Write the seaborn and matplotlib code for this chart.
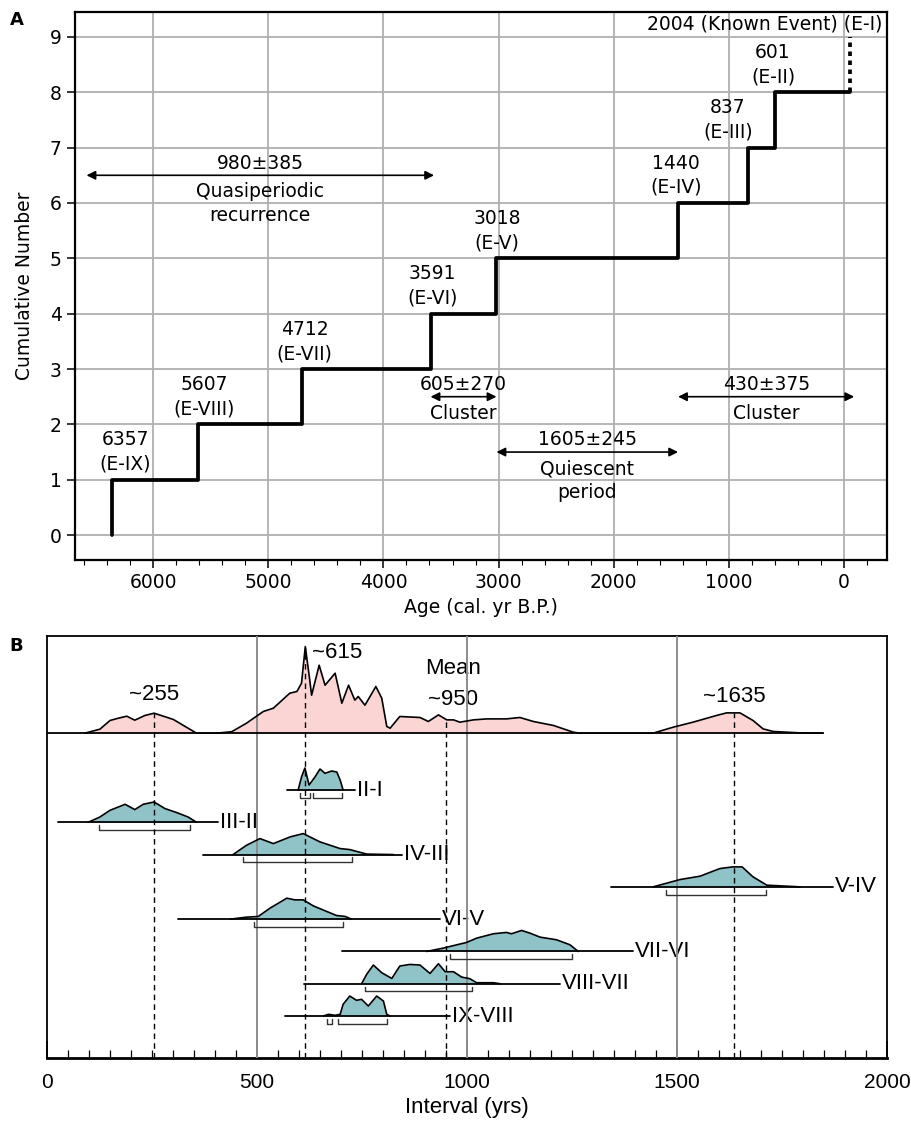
import numpy as np
import seaborn as sns
import matplotlib.pyplot as plt

sns.set_style("ticks")
plt.rcParams['font.family'] = ['DejaVu Sans']
plt.rcParams['text.color'] = 'black'
plt.rcParams['axes.labelcolor'] = 'black'
plt.rcParams['xtick.color'] = 'black'
plt.rcParams['ytick.color'] = 'black'

# ---------------- panel A data ----------------
event_ages = [6357, 5607, 4712, 3591, 3018, 1440, 837, 601]
event_names = ['E-IX', 'E-VIII', 'E-VII', 'E-VI', 'E-V', 'E-IV', 'E-III', 'E-II']
known_age = -54          # 2004 AD
known_label = '2004 (Known Event) (E-I)'
# label x positions (layout only)
event_label_x = [6245, 5556, 4687, 3576, 3012, 1458, 1007, 616]

span_start = [6580, 3591, 3018, 1440]
span_end = [3560, 3018, 1440, -90]
span_y = [6.5, 2.5, 1.5, 2.5]
span_text = [['980±385', 'Quasiperiodic', 'recurrence'],
             ['605±270', 'Cluster'],
             ['1605±245', 'Quiescent', 'period'],
             ['430±375', 'Cluster']]

# ---------------- panel B data ----------------
pink_x = [90, 126, 150, 170, 190, 209, 233, 255, 277, 301, 329, 356, 404, 440, 475, 515,
          539, 578, 595, 606, 615, 625, 630, 648, 662, 686, 702, 718, 733, 741, 757, 783,
          797, 809, 817, 840, 888, 908, 932, 952, 968, 983, 1015, 1047, 1094, 1126, 1158,
          1206, 1253, 1269, 1443, 1491, 1538, 1594, 1618, 1650, 1681, 1705, 1729, 1793, 1848]
pink_h = [0, 4, 12.7, 15, 17, 13, 17.7, 20, 17, 13.7, 6.7, 0, 0, 1.5, 10, 21.7,
          25, 40, 41.7, 50, 86.7, 55, 38, 68, 48, 60, 30, 48, 33, 36.7, 28, 46.7,
          35, 6.7, 5, 16.7, 15.7, 11.7, 18.3, 13.3, 13.3, 11, 13.3, 14.3, 14.3, 15.7, 11.7,
          7.7, 1, 0, 0, 6, 11, 17.7, 20.3, 20.3, 12.7, 4.3, 1.7, 0.3, 0]
modes = [255, 615, 950, 1635]

row_names = ['IX-VIII', 'VIII-VII', 'VII-VI', 'VI-V', 'V-IV', 'IV-III', 'III-II', 'II-I']
ix_viii_x = [658, 670, 686, 698, 705, 721, 737, 749, 765, 785, 801, 809, 817]
ix_viii_h = [0, 1.7, 0.7, 1.7, 11.7, 20, 15.7, 16.7, 10, 20, 15, 1.7, 0]
viii_vii_x = [749, 761, 777, 797, 821, 840, 864, 888, 912, 932, 948, 968, 987, 1007, 1023, 1063, 1079]
viii_vii_h = [0, 9.3, 18.7, 11, 5.3, 17.7, 19.3, 18.7, 10.3, 20, 12, 12, 6.7, 5, 1, 1, 0]
vii_vi_x = [904, 943, 999, 1023, 1063, 1094, 1106, 1130, 1150, 1174, 1213, 1245, 1265]
vii_vi_h = [0, 3.3, 9, 13.3, 17.7, 19, 17.7, 21, 18.3, 14.3, 11.7, 6.7, 0]
vi_v_x = [436, 475, 503, 531, 571, 590, 610, 634, 666, 689, 710, 725]
vi_v_h = [0, 2, 2.7, 11, 21, 19.3, 19.3, 13.3, 7.7, 3.7, 2.7, 0]
v_iv_x = [1443, 1507, 1555, 1602, 1633, 1655, 1681, 1714, 1793]
v_iv_h = [0, 7.3, 10.7, 18.3, 20, 20, 10, 1.7, 0]
iv_iii_x = [443, 475, 507, 539, 579, 610, 650, 698, 721, 761, 825]
iv_iii_h = [0, 9.3, 16, 11, 17.7, 21, 12.7, 6, 5, 0.5, 0]
iii_ii_x = [98, 126, 150, 186, 209, 229, 255, 281, 309, 336, 356]
iii_ii_h = [0, 5.3, 12, 18, 12.7, 18, 20.3, 13.7, 9.7, 5.3, 0]
ii_i_x = [598, 606, 614, 624, 638, 650, 662, 678, 690, 698, 705]
ii_i_h = [0, 13, 22, 5, 13, 21, 16.7, 19, 18, 10, 0]
row_x = [ix_viii_x, viii_vii_x, vii_vi_x, vi_v_x, v_iv_x, iv_iii_x, iii_ii_x, ii_i_x]
row_h = [ix_viii_h, viii_vii_h, vii_vi_h, vi_v_h, v_iv_h, iv_iii_h, iii_ii_h, ii_i_h]
row_range = [(567, 960), (612, 1221), (702, 1395), (312, 936),
             (1342, 1871), (372, 845), (27, 408), (571, 733)]
row_brackets = [[(666, 678), (694, 809)], [(757, 1011)], [(960, 1250)], [(493, 705)],
                [(1474, 1712)], [(467, 727)], [(125, 340)], [(602, 626), (634, 703)]]

mode_labels = ['~255', '~615', 'Mean\n~950', '~1635']

# ---------------- figure ----------------
fig = plt.figure(figsize=(9.12, 11.22), dpi=100)
axA = fig.add_axes([75/912, 1-560/1122, 812/912, 548/1122])
axB = fig.add_axes([47/912, 1-1058/1122, 840/912, 422/1122])

fsA = 13.5

# ---- panel A
step_x = [event_ages[0]]
step_y = [0]
for k, a in enumerate(event_ages):
    step_x += [a, a]
    step_y += [k, k + 1]
step_x = step_x[1:] + [known_age]
step_y = step_y[1:] + [len(event_ages)]
step_x = [event_ages[0]] + step_x
step_y = [0] + step_y
sns.lineplot(x=step_x, y=step_y, ax=axA, sort=False, estimator=None,
             color='black', lw=2.7, zorder=3)
axA.plot([known_age, known_age], [len(event_ages), len(event_ages) + 1],
         color='black', lw=2.7, ls=(0, (1.2, 1.2)), zorder=3)

for k, (lx, a, nm) in enumerate(zip(event_label_x, event_ages, event_names)):
    axA.text(lx, k + 1.72, str(a), ha='center', va='center', fontsize=fsA)
    axA.text(lx, k + 1.28, '(' + nm + ')', ha='center', va='center', fontsize=fsA)
axA.text(-335, 9.24, known_label, ha='right', va='center', fontsize=fsA)

for x0, x1, y, lines in zip(span_start, span_end, span_y, span_text):
    axA.annotate('', xy=(x1, y), xytext=(x0, y),
                 arrowprops=dict(arrowstyle='<|-|>', color='black', lw=1.2,
                                 mutation_scale=13, shrinkA=0, shrinkB=0))
    xc = (x0 + x1) / 2
    axA.text(xc, y + 0.22, lines[0], ha='center', va='center', fontsize=fsA)
    for i, t in enumerate(lines[1:]):
        axA.text(xc, y - 0.30 - 0.43 * i, t, ha='center', va='center', fontsize=fsA)

axA.set_xlim(6680, -375)
axA.set_ylim(-0.45, 9.45)
axA.set_xticks(range(6000, -1, -1000))
axA.set_xticks(range(6600, -400, -200), minor=True)
axA.set_yticks(range(0, 10))
axA.grid(True, color='#b0b0b0', lw=1.3)
axA.set_axisbelow(True)
for s in axA.spines.values():
    s.set_linewidth(1.6)
    s.set_color('black')
axA.tick_params(axis='both', which='major', labelsize=fsA, length=6, width=1.1, direction='out')
axA.tick_params(axis='x', which='minor', length=3.5, width=0.8, direction='out')
axA.set_xlabel('Age (cal. yr B.P.)', fontsize=fsA)
axA.set_ylabel('Cumulative Number', fontsize=fsA)
axA.xaxis.set_label_coords(0.5, -0.070)
axA.yaxis.set_label_coords(-0.050, 0.5)

# ---- panel B
bfont = 'Liberation Sans'
scale = 1 / 32.3
pink_base = 8.76
axB.set_xlim(0, 2000)
axB.set_ylim(-1.3, 11.77)

for v in [500, 1000, 1500]:
    axB.axvline(v, color='#8c8c8c', lw=1.4, zorder=4)

ph = np.array(pink_h) * scale
axB.fill_between(pink_x, pink_base, pink_base + ph, color='#fbd4d4', lw=0, zorder=2)
sns.lineplot(x=pink_x, y=pink_base + ph, ax=axB, sort=False, estimator=None,
             color='black', lw=1.2, zorder=5)
axB.plot([0, 1848], [pink_base, pink_base], color='black', lw=1.3, zorder=5)

for m in modes:
    top = pink_base + np.interp(m, pink_x, pink_h) * scale
    axB.plot([m, m], [-1.3, top], color='black', lw=1.0, ls=(0, (4, 3)), zorder=6)

for i, (nm, xs, hs, rng, brs) in enumerate(zip(row_names, row_x, row_h, row_range, row_brackets)):
    hh = i + np.array(hs) * scale
    axB.fill_between(xs, i, hh, color='#8fc3c8', lw=0, zorder=2)
    sns.lineplot(x=xs, y=hh, ax=axB, sort=False, estimator=None,
                 color='black', lw=1.2, zorder=5)
    axB.plot(list(rng), [i, i], color='black', lw=1.3, zorder=5)
    for b0, b1 in brs:
        axB.plot([b0, b0, b1, b1], [i - 0.09, i - 0.24, i - 0.24, i - 0.09],
                 color='#333333', lw=1.0, zorder=5)
    axB.text(rng[1] + 4, i, nm, ha='left', va='center', fontsize=16, family=bfont)

axB.text(255, 9.97, mode_labels[0], ha='center', va='center', fontsize=16, family=bfont)
axB.text(630, 11.27, mode_labels[1], ha='left', va='center', fontsize=16, family=bfont)
axB.text(967, 10.75, mode_labels[2].split('\n')[0], ha='center', va='center', fontsize=16, family=bfont)
axB.text(967, 9.79, mode_labels[2].split('\n')[1], ha='center', va='center', fontsize=16, family=bfont)
axB.text(1636, 9.91, mode_labels[3], ha='center', va='center', fontsize=16, family=bfont)

axB.set_yticks([])
axB.set_xticks([0, 500, 1000, 1500, 2000])
axB.set_xticks(range(0, 2001, 50), minor=True)
axB.tick_params(axis='x', which='major', direction='in', length=12, width=1.2, labelsize=15, pad=11)
axB.tick_params(axis='x', which='minor', direction='in', length=6, width=0.9)
for lab in axB.get_xticklabels():
    lab.set_family(bfont)
for s in axB.spines.values():
    s.set_linewidth(1.3)
    s.set_color('black')
axB.spines['bottom'].set_linewidth(2.0)
axB.set_xlabel('Interval (yrs)', fontsize=16, family=bfont)
axB.xaxis.set_label_coords(0.5, -0.092)

fig.text(17/912, 1-20/1122, 'A', fontsize=13, fontweight='bold', ha='center', va='center')
fig.text(16/912, 1-646/1122, 'B', fontsize=13, fontweight='bold', ha='center', va='center')

fig.savefig('out.png', dpi=100)
